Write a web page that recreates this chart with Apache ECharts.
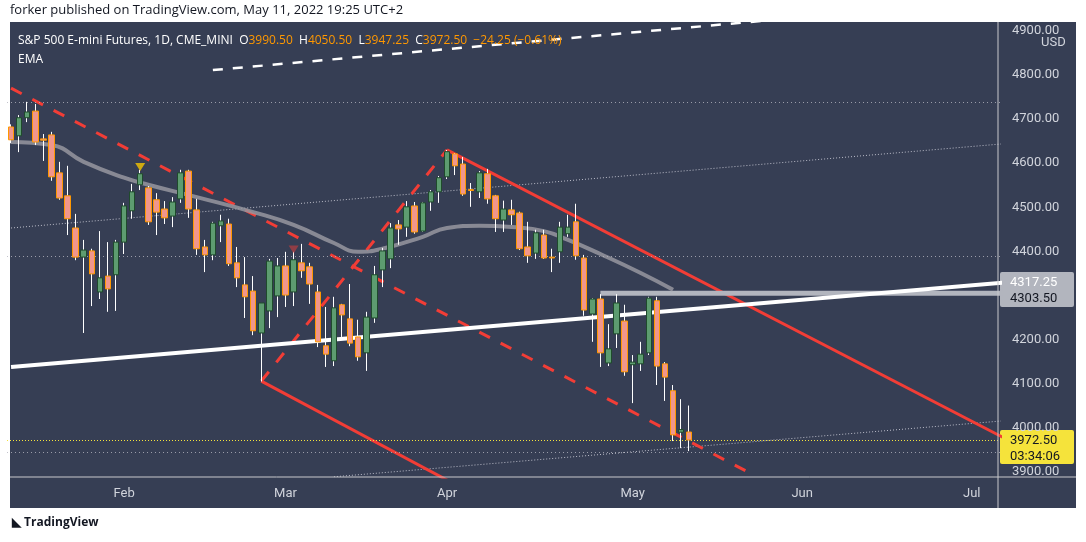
<!DOCTYPE html>
<html>
<head>
<meta charset="utf-8">
<script src="https://cdn.jsdelivr.net/npm/echarts@6/dist/echarts.min.js"></script>
<style>
html,body{margin:0;padding:0;background:#fff;}
#main{width:1086px;height:542px;}
</style>
</head>
<body>
<div id="main"></div>
<script>
// daily bars, [open, close, low, high]
var candles = [
[4682,4653,4645,4688],[4662,4703,4625,4709],[4703,4716,4693,4739],[4718,4648,4641,4734],
[4655,4652,4605,4666],[4664,4569,4560,4671],[4578,4521,4517,4603],[4526,4474,4437,4594],
[4453,4387,4380,4485],[4387,4403,4215,4426],[4401,4349,4276,4406],[4308,4340,4292,4446],
[4344,4315,4263,4421],[4347,4421,4265,4426],[4421,4503,4394,4510],[4492,4535,4474,4553],
[4551,4576,4539,4585],[4544,4467,4460,4548],[4517,4489,4437,4532],[4496,4476,4462,4514],
[4480,4512,4455,4523],[4519,4578,4510,4585],[4582,4496,4476,4585],[4494,4406,4392,4519],
[4410,4392,4353,4426],[4392,4464,4380,4467],[4458,4469,4421,4483],[4462,4372,4367,4474],
[4374,4340,4319,4410],[4324,4297,4249,4387],[4310,4220,4210,4344],[4215,4283,4105,4283],
[4265,4378,4226,4383],[4299,4367,4251,4385],[4367,4301,4274,4399],[4308,4381,4276,4399],
[4374,4356,4340,4417],[4365,4326,4281,4374],[4308,4195,4183,4324],[4186,4167,4138,4274],
[4152,4272,4140,4297],[4279,4256,4206,4281],[4247,4192,4185,4326],[4206,4161,4152,4245],
[4170,4251,4129,4263],[4249,4347,4238,4367],[4358,4401,4319,4408],[4383,4453,4362,4464],
[4460,4451,4415,4471],[4455,4501,4433,4514],[4503,4444,4440,4512],[4446,4510,4444,4512],
[4512,4535,4492,4539],[4535,4567,4510,4571],[4569,4626,4564,4630],[4621,4594,4573,4623],
[4598,4530,4526,4614],[4540,4538,4501,4555],[4535,4578,4521,4582],[4576,4519,4508,4587],
[4526,4474,4444,4528],[4471,4496,4444,4515],[4494,4483,4460,4517],[4487,4406,4403,4490],
[4410,4390,4374,4467],[4396,4442,4383,4449],[4437,4385,4383,4449],[4387,4385,4353,4406],
[4399,4455,4374,4467],[4440,4455,4433,4483],[4467,4390,4381,4508],[4385,4267,4254,4392],
[4258,4292,4195,4294],[4292,4170,4138,4303],[4147,4179,4140,4235],[4213,4283,4181,4303],
[4242,4127,4118,4279],[4143,4149,4056,4165],[4145,4167,4129,4195],[4170,4294,4165,4297],
[4288,4140,4097,4297],[4145,4115,4061,4149],[4084,3984,3970,4097],[3990,3996,3954,4065],
[3990.5,3972.5,3947.25,4050.5]
];
var totalSlots = 123;
var monthNames = ['Feb','Mar','Apr','May','Jun','Jul'];
var monthIdx = [14,34,54,77,98,119];
var priceTicks = [3900,4000,4100,4200,4400,4500,4600,4700,4800,4900];

var ema = [[0,4648],[4.8,4641],[8.6,4603],[13.5,4567],[17.2,4551],[23.4,4523],[29.6,4489],
[34.6,4460],[39.5,4419],[42.9,4399],[45.7,4406],[50.7,4433],[54.4,4453],[58.1,4458],
[61.8,4455],[65.6,4446],[69.3,4426],[73,4394],[77.9,4351],[81.9,4313]];

var whiteTrend = [[0,4138],[122.5,4329]];
var whiteDash = [[24.7,4811],[122,4970]];
var redDashDown = [[0,4770],[92.2,3893]];
var redDashUp = [[30.9,4106],[53.8,4630]];
var redSolidLow = [[30.9,4106],[60,3823]];
var redSolidHigh = [[53.8,4630],[122.5,3977]];
var dotUpper = [[0,4453],[122.5,4644]];
var dotLower = [[39.5,3889],[122.5,4016]];
var dotLevels = [4739,4390,3945];
var grayLevel = [[72.7,4305],[122.5,4305]];
var lastClose = 3972.5;

var cats = [];
for (var i = 0; i < totalSlots; i++) cats.push(String(i));

var wicks = candles.map(function(c){ return [c[0],c[1],c[2],c[3]]; });
var bodies = candles.map(function(c){
  return [c[0],c[1],Math.min(c[0],c[1]),Math.max(c[0],c[1])];
});

function seg(data, color, width, type){
  return {type:'line', data:data, symbol:'none', silent:true, z:3,
    lineStyle:{color:color, width:width, type:type || 'solid'}};
}

var series = [
  seg(dotUpper,'rgba(220,220,230,0.8)',1,[1,2]),
  seg(dotLower,'rgba(220,220,230,0.8)',1,[1,2]),
  seg(redSolidLow,'#f23d36',3),
  seg(redSolidHigh,'#f23d36',3),
  seg(redDashDown,'#f23d36',3,[12,12]),
  seg(redDashUp,'#f23d36',3,[12,12]),
  seg(whiteDash,'#ffffff',2.5,[10,10]),
  {type:'line', data:ema, symbol:'none', smooth:true, silent:true, z:4,
    lineStyle:{color:'rgba(150,150,160,0.85)', width:4}},
  seg(grayLevel,'#b2b5be',5),
  seg(whiteTrend,'#ffffff',4),
  {type:'candlestick', data:wicks, barWidth:1, z:5, silent:true,
    itemStyle:{color:'#ffffff',color0:'#ffffff',borderColor:'#ffffff',borderColor0:'#ffffff',borderWidth:1}},
  {type:'candlestick', data:bodies, barWidth:6, z:6, silent:true,
    itemStyle:{color:'#5d9c70',color0:'#f0968c',borderColor:'#1f4a2c',borderColor0:'#ff9800',borderWidth:1},
    markLine:{symbol:'none', silent:true, label:{show:false},
      data:dotLevels.map(function(v){return {yAxis:v, lineStyle:{color:'rgba(180,180,190,0.8)',type:[1,3],width:1}};})
        .concat([{yAxis:lastClose, lineStyle:{color:'#f5e33b',type:[1,2],width:1}}])}
  },
  {type:'scatter', silent:true, z:7, symbol:'triangle', symbolRotate:180, symbolSize:[10,8],
    data:[{value:[16,4591],itemStyle:{color:'#f5c400'}},{value:[35,4404],itemStyle:{color:'rgba(242,61,54,0.6)'}}]}
];

var myChart = echarts.init(document.getElementById('main'));
var option = {
  animation:false,
  backgroundColor:'#ffffff',
  grid:{left:7, top:22, width:993, bottom:65},
  xAxis:{type:'category', data:cats, boundaryGap:true,
    axisLine:{show:false}, axisTick:{show:false}, splitLine:{show:false},
    axisLabel:{color:'#d1d4dc', fontSize:13, fontFamily:'Roboto', margin:10,
      interval:function(i){ return monthIdx.indexOf(i) >= 0; },
      formatter:function(v,i){ var k = monthIdx.indexOf(Number(v)); return k >= 0 ? monthNames[k] : ''; }}},
  yAxis:{type:'value', position:'right', min:3888.5, max:4920, scale:true,
    axisLine:{show:false}, axisTick:{show:false}, splitLine:{show:false},
    axisLabel:{color:'#d1d4dc', fontSize:13, fontFamily:'Roboto', margin:12,
      customValues:priceTicks, formatter:function(v){ return v.toFixed(2); }}},
  graphic:[
    {type:'rect', z:-10, shape:{x:10,y:22,width:1066,height:486}, style:{fill:'#363e54'}},
    {type:'line', z:20, shape:{x1:998,y1:22,x2:998,y2:508}, style:{stroke:'#c8c8cc',lineWidth:1}},
    {type:'line', z:20, shape:{x1:10,y1:477,x2:1076,y2:477}, style:{stroke:'#c8c8cc',lineWidth:1}},
    {type:'rect', z:19, shape:{x:1030,y:34,width:40,height:18}, style:{fill:'#363e54'}},
    {type:'text', z:21, left:1041, top:36, style:{text:'USD', fill:'#d1d4dc', font:'13px Roboto'}},
    {type:'text', z:21, left:10, top:4, style:{text:'forker published on TradingView.com, May 11, 2022 19:25 UTC+2', fill:'#131722', font:'13px "Open Sans"'}},
    {type:'text', z:21, left:18, top:35, style:{rich:{w:{fill:'#ffffff',font:'12px "Open Sans"'},o:{fill:'#ff9800',font:'12px "Open Sans"'}},
      text:'{w|S&P 500 E-mini Futures, 1D, CME_MINI  O}{o|3990.50}{w|  H}{o|4050.50}{w|  L}{o|3947.25}{w|  C}{o|3972.50}{o|  \u221224.25 (\u22120.61%)}'}},
    {type:'text', z:21, left:18, top:54, style:{text:'EMA', fill:'#ffffff', font:'12px "Open Sans"'}},
    {type:'text', z:21, left:12, top:517, style:{text:'\u25E3 TradingView', fill:'#131722', font:'bold 12px "Open Sans"'}}
  ],
  series:series
};
myChart.setOption(option);

// price tags on the right scale (nudged apart like the platform does)
function tag(price, shift, txt, bg, fg, h){
  var y = myChart.convertToPixel({yAxisIndex:0}, price) + shift;
  return {type:'group', z:30, children:[
    {type:'rect', shape:{x:1000,y:y-10,width:74,height:h,r:2}, style:{fill:bg}},
    {type:'text', style:{text:txt, x:1010, y:y-7, fill:fg, font:'13px Roboto', lineHeight:16}}
  ]};
}
myChart.setOption({graphic:option.graphic.concat([
  tag(4317.25,-6,'4317.25','#b2b5be','#ffffff',19),
  tag(4303.5,4,'4303.50','#b2b5be','#131722',19),
  tag(lastClose,0,'3972.50\n03:34:06','#f5e33b','#131722',34)
])}, {replaceMerge:['graphic']});
</script>
</body>
</html>
